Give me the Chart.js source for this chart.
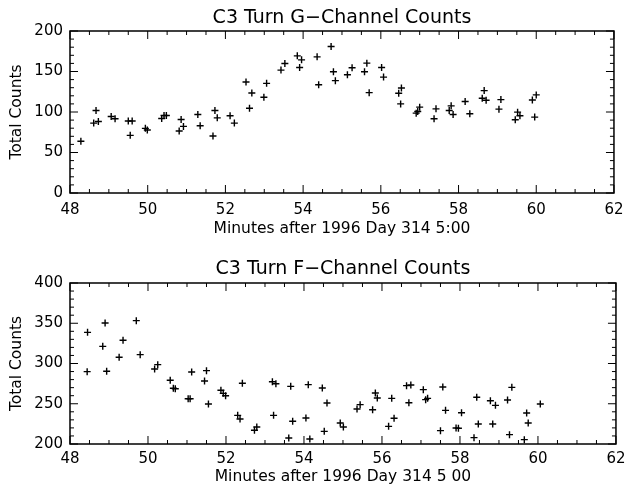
<!DOCTYPE html>
<html>
<head>
<meta charset="utf-8">
<script src="https://cdn.jsdelivr.net/npm/chart.js@4/dist/chart.umd.min.js"></script>
<style>
  body { margin: 0; background: #fff; }
  #wrap { position: relative; width: 632px; height: 493px; }
  canvas { position: absolute; left: 0; }
</style>
</head>
<body>
<div id="wrap">
  <canvas id="gChart" width="632" height="246" style="top:0"></canvas>
  <canvas id="fChart" width="632" height="247" style="top:246px"></canvas>
</div>
<script>
// G-channel (top panel)
const gMinutes = [48.28, 48.61, 48.67, 48.73, 49.06, 49.16, 49.50, 49.55, 49.60, 49.94,
  49.99, 50.36, 50.42, 50.48, 50.81, 50.86, 50.92, 51.29, 51.35, 51.68,
  51.73, 51.79, 52.12, 52.23, 52.53, 52.62, 52.68, 52.99, 53.06, 53.43,
  53.53, 53.85, 53.91, 53.96, 54.36, 54.40, 54.72, 54.78, 54.83, 55.14,
  55.26, 55.58, 55.64, 55.70, 56.02, 56.07, 56.46, 56.51, 56.53, 56.91,
  56.95, 57.00, 57.37, 57.42, 57.76, 57.81, 57.86, 58.17, 58.29, 58.61,
  58.66, 58.71, 59.04, 59.09, 59.46, 59.52, 59.58, 59.90, 59.96, 60.00];
const gCounts = [63.8, 86.3, 101.8, 88.3, 94.5, 91.6, 88.8, 71.2, 88.8, 79.8,
  77.7, 92.0, 95.7, 95.7, 76.5, 90.8, 82.2, 96.9, 83.0, 70.3,
  101.8, 92.8, 95.3, 86.3, 137.0, 104.7, 123.5, 118.2, 135.4, 151.7,
  159.9, 169.3, 155.0, 164.4, 168.1, 133.7, 180.8, 149.7, 138.7, 146.0,
  154.6, 149.7, 160.3, 123.9, 155.0, 143.1, 123.1, 110.0, 129.7, 98.6,
  100.6, 106.0, 91.6, 103.9, 101.8, 107.6, 96.9, 112.9, 97.8, 117.0,
  126.4, 114.5, 103.5, 115.3, 90.4, 99.8, 95.3, 114.9, 93.7, 121.1];

// F-channel (bottom panel)
const fMinutes = [48.44, 48.45, 48.84, 48.90, 48.94, 49.26, 49.36, 49.70, 49.80, 50.17,
  50.25, 50.57, 50.65, 50.70, 51.03, 51.08, 51.12, 51.45, 51.50, 51.55,
  51.87, 51.93, 51.99, 52.30, 52.36, 52.42, 52.73, 52.79, 53.19, 53.22,
  53.28, 53.61, 53.66, 53.71, 54.05, 54.11, 54.15, 54.47, 54.52, 54.59,
  54.93, 55.01, 55.36, 55.44, 55.76, 55.83, 55.88, 56.17, 56.25, 56.31,
  56.63, 56.69, 56.74, 57.06, 57.12, 57.17, 57.50, 57.56, 57.63, 57.90,
  57.96, 58.04, 58.36, 58.43, 58.47, 58.78, 58.84, 58.91, 59.22, 59.27,
  59.33, 59.65, 59.71, 59.75, 60.06];
const fCounts = [289.9, 338.7, 321.3, 350.3, 290.3, 307.7, 328.8, 353.2, 311.0, 293.2,
  298.6, 279.1, 269.2, 268.7, 256.3, 256.3, 289.4, 278.3, 291.1, 249.7,
  266.7, 262.9, 260.0, 235.6, 231.1, 275.4, 217.0, 221.1, 277.4, 235.6,
  274.9, 207.5, 271.6, 228.2, 232.3, 273.7, 206.2, 269.6, 215.7, 250.9,
  226.1, 221.1, 243.5, 248.9, 242.6, 263.4, 257.1, 221.9, 256.7, 231.9,
  272.5, 251.3, 273.3, 267.5, 255.1, 256.7, 216.6, 270.8, 241.8, 219.9,
  219.5, 238.9, 207.9, 258.0, 224.8, 253.8, 224.8, 248.0, 254.7, 211.6,
  270.4, 205.4, 238.5, 226.1, 249.7];

const xRange = [48, 62];
const gRange = [0, 200];
const fRange = [200, 400];

const FONT = 'DejaVu Sans';

// IDL-style frame with inward major/minor ticks on all four sides
const framePlugin = {
  id: 'frame',
  afterDraw(chart) {
    const { ctx, chartArea: a, scales } = chart;
    const xs = scales.x, ys = scales.y;
    ctx.save();
    ctx.strokeStyle = '#000';
    ctx.lineWidth = 1.5;
    ctx.strokeRect(a.left, a.top, a.right - a.left, a.bottom - a.top);
    ctx.lineWidth = 1;
    ctx.beginPath();
    for (let v = xs.min; v <= xs.max + 1e-9; v += 0.5) {
      const px = xs.getPixelForValue(v);
      const len = Math.abs(v % 2) < 1e-9 ? 8 : 4;
      ctx.moveTo(px, a.bottom); ctx.lineTo(px, a.bottom - len);
      ctx.moveTo(px, a.top); ctx.lineTo(px, a.top + len);
    }
    for (let v = ys.min; v <= ys.max + 1e-9; v += 10) {
      const py = ys.getPixelForValue(v);
      const len = Math.abs(v % 50) < 1e-9 ? 8 : 4;
      ctx.moveTo(a.left, py); ctx.lineTo(a.left + len, py);
      ctx.moveTo(a.right, py); ctx.lineTo(a.right - len, py);
    }
    ctx.stroke();
    ctx.restore();
  }
};

function makeChart(id, title, xTitle, xs, ys, yRange, geo) {
  const pts = xs.map((x, i) => ({ x: x, y: ys[i] }));
  return new Chart(document.getElementById(id), {
    type: 'scatter',
    data: {
      datasets: [{
        data: pts,
        pointStyle: 'cross',
        radius: 3.5,
        borderColor: '#000',
        borderWidth: 1.4,
        clip: false
      }]
    },
    options: {
      responsive: false,
      animation: false,
      events: [],
      layout: { padding: { left: 0, right: 8, top: 0, bottom: 0 } },
      plugins: { legend: { display: false }, tooltip: { enabled: false } },
      scales: {
        x: {
          type: 'linear', position: 'bottom',
          min: xRange[0], max: xRange[1],
          afterFit: s => { s.height = geo.xH; },
          grid: { display: false, drawTicks: false },
          border: { display: false },
          ticks: { stepSize: 2, color: '#000', padding: geo.xPad, maxRotation: 0,
                   font: { family: FONT, size: 15 } },
          title: { display: true, text: xTitle, color: '#000',
                   padding: { top: 0, bottom: geo.xTitlePad },
                   font: { family: FONT, size: 15.5 } }
        },
        x2: {
          type: 'linear', position: 'top',
          min: xRange[0], max: xRange[1],
          afterFit: s => { s.height = geo.top; },
          grid: { display: false, drawTicks: false },
          border: { display: false },
          ticks: { display: false },
          title: { display: true, text: title, color: '#000',
                   padding: { top: geo.titlePad, bottom: 0 },
                   font: { family: FONT, size: 19 } }
        },
        y: {
          type: 'linear', position: 'left',
          min: yRange[0], max: yRange[1],
          afterFit: s => { s.width = 70; },
          grid: { display: false, drawTicks: false },
          border: { display: false },
          ticks: { stepSize: 50, color: '#000', padding: 7,
                   font: { family: FONT, size: 15 } },
          title: { display: true, text: 'Total Counts', color: '#000',
                   padding: { top: 8, bottom: 0 },
                   font: { family: FONT, size: 15.5 } }
        }
      }
    },
    plugins: [framePlugin]
  });
}

makeChart('gChart', 'C3 Turn G\u2212Channel Counts', 'Minutes after 1996 Day 314 5:00',
  gMinutes, gCounts, gRange, { top: 31, xH: 53, xPad: 8.5, xTitlePad: 8, titlePad: 6.5 });
makeChart('fChart', 'C3 Turn F\u2212Channel Counts', 'Minutes after 1996 Day 314 5 00',
  fMinutes, fCounts, fRange, { top: 37, xH: 49, xPad: 6.5, xTitlePad: 7, titlePad: 12 });
</script>
</body>
</html>
